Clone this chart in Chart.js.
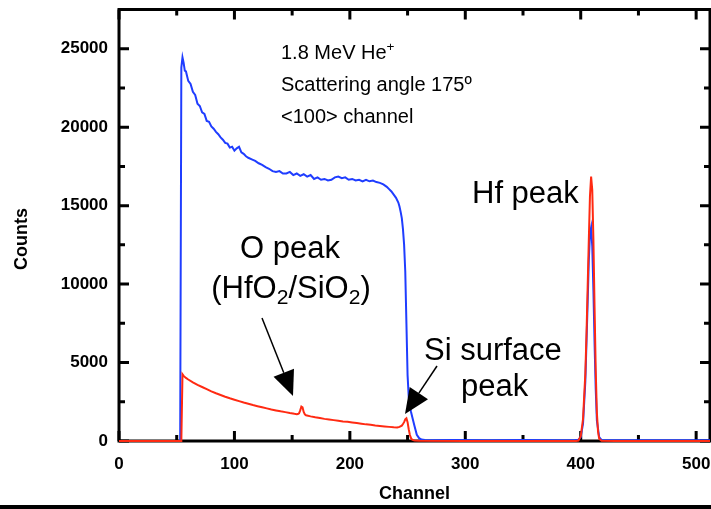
<!DOCTYPE html>
<html><head><meta charset="utf-8">
<script src="https://cdn.jsdelivr.net/npm/chart.js@4.4.1/dist/chart.umd.min.js"></script>
<style>html,body{margin:0;padding:0;background:#fff;}#wrap{width:711px;height:509px;}</style>
</head><body><div id="wrap"><canvas id="c" width="711" height="509"></canvas></div>
<script>
// ---- data ----
const blueChannels = [0,20,40,52,53,54,55,56,57,58,60,62,64,66,68,70,72,74,76,78,80,82,84,86,88,90,92,94,96,98,100,102,104,106,108,110,112,115,118,121,124,127,130,133,136,139,142,145,148,151,154,157,160,163,166,169,172,175,178,181,184,187,190,193,196,199,202,205,208,211,214,217,220,223,226,229,232,234,236,238,240,242,243,244,245,246,247,248,249,250,251,252,253,254,256,258,260,262,265,270,290,320,350,380,395,398,400,402,404,406,407,408,409,410,411,412,413,414,416,418,430,460,490,512];
const blueCounts = [0,0,0,0,0,23800,24450,24100,23600,23550,22950,22750,22250,22050,21500,21350,20950,20850,20400,20350,20050,19900,19700,19550,19350,19200,19000,18950,18700,18750,18500,18650,18750,18400,18300,18150,18050,17950,17850,17700,17600,17450,17350,17200,17150,17200,17050,17050,17150,16950,17050,16900,17000,16850,16950,16700,16800,16650,16700,16600,16650,16800,16850,16750,16800,16650,16700,16600,16650,16550,16650,16550,16600,16500,16450,16350,16200,16050,15900,15700,15500,15200,14950,14600,14200,13500,12500,10800,7500,4200,2800,2200,1850,1550,950,400,180,90,60,50,60,50,60,50,60,80,250,1100,3800,8800,11500,13200,13600,12400,9600,6200,3300,1300,250,70,50,50,50,50];
const redChannels = [0,20,40,53,54,55,56,58,60,64,68,72,76,80,84,88,92,96,100,104,108,112,116,120,124,128,132,136,140,144,148,152,154,155,156,157,158,159,160,161,162,166,170,174,178,182,186,190,194,198,202,206,210,214,218,222,226,230,234,238,241,243,245,246,247,248,249,250,251,252,253,254,256,260,300,350,396,398,400,402,404,405,406,407,408,409,410,411,412,413,414,415,416,418,430,470,512];
const redCounts = [0,0,0,0,0,4250,4150,4020,3920,3740,3580,3440,3300,3160,3040,2930,2820,2720,2630,2540,2450,2370,2290,2220,2150,2080,2010,1950,1890,1840,1780,1730,1710,1720,1760,1950,2200,2150,1850,1700,1640,1570,1510,1460,1410,1370,1330,1290,1250,1220,1180,1140,1100,1060,1030,990,960,930,900,870,860,900,980,1080,1200,1380,1450,1200,750,380,180,80,30,10,0,0,0,30,300,1400,4300,6800,9800,12800,15600,16850,16000,12800,8500,4500,1800,600,150,20,0,0,0];
const xMajorTicks = [0,100,200,300,400,500];
const xMinorTicks = [50,150,250,350,450];
const yMajorTicks = [0,5000,10000,15000,20000,25000];
const yMinorTicks = [2500,7500,12500,17500,22500];

const FAM = '"Liberation Sans", Arial, sans-serif';

function drawRich(ctx, parts, x, y, size, align) {
  let w = 0;
  const m = parts.map(p => {
    const fs = p.s ? size * 0.68 : size;
    ctx.font = fs + 'px ' + FAM;
    const pw = ctx.measureText(p.t).width;
    w += pw;
    return {p, fs, pw};
  });
  let cx = align === 'center' ? x - w / 2 : x;
  ctx.textAlign = 'left';
  ctx.textBaseline = 'alphabetic';
  for (const it of m) {
    ctx.font = it.fs + 'px ' + FAM;
    const dy = it.p.s === 1 ? -size * 0.38 : (it.p.s === -1 ? size * 0.2 : 0);
    ctx.fillText(it.p.t, cx, y + dy);
    cx += it.pw;
  }
}
function arrow(ctx, x1, y1, x2, y2, hl, hw) {
  const a = Math.atan2(y2 - y1, x2 - x1);
  const bx = x2 - hl * Math.cos(a), by = y2 - hl * Math.sin(a);
  ctx.beginPath(); ctx.moveTo(x1, y1); ctx.lineTo(bx, by);
  ctx.lineWidth = 1.5; ctx.strokeStyle = '#000'; ctx.stroke();
  ctx.beginPath(); ctx.moveTo(x2, y2);
  ctx.lineTo(bx + hw * Math.sin(a), by - hw * Math.cos(a));
  ctx.lineTo(bx - hw * Math.sin(a), by + hw * Math.cos(a));
  ctx.closePath(); ctx.fillStyle = '#000'; ctx.fill();
}

const framePlugin = {
  id: 'frame',
  beforeDatasetsDraw(chart) {
    const {ctx, chartArea: {left, right, top, bottom}, scales: {x, y}} = chart;
    ctx.save();
    ctx.strokeStyle = '#000'; ctx.lineWidth = 3;
    ctx.strokeRect(left, top, right - left, bottom - top);
    const tx = (v, L) => { const p = x.getPixelForValue(v);
      ctx.beginPath(); ctx.moveTo(p, bottom); ctx.lineTo(p, bottom - L); ctx.moveTo(p, top); ctx.lineTo(p, top + L); ctx.stroke(); };
    const ty = (v, L) => { const p = y.getPixelForValue(v);
      ctx.beginPath(); ctx.moveTo(left, p); ctx.lineTo(left + L, p); ctx.moveTo(right, p); ctx.lineTo(right - L, p); ctx.stroke(); };
    xMajorTicks.forEach(v => tx(v, 10)); xMinorTicks.forEach(v => tx(v, 6));
    yMajorTicks.forEach(v => ty(v, 10)); yMinorTicks.forEach(v => ty(v, 6));
    ctx.restore();
  },
  afterDraw(chart) {
    const ctx = chart.ctx;
    ctx.save();
    ctx.fillStyle = '#000';
    ctx.fillRect(0, 505, 711, 4);
    // axis titles
    ctx.font = 'bold 18px ' + FAM;
    ctx.textAlign = 'center'; ctx.textBaseline = 'middle';
    ctx.fillText('Channel', (chart.chartArea.left + chart.chartArea.right) / 2, 494);
    ctx.save(); ctx.translate(22, 239); ctx.rotate(-Math.PI / 2);
    ctx.fillText('Counts', 0, 0); ctx.restore();
    // annotations
    drawRich(ctx, [{t: '1.8 MeV He'}, {t: '+', s: 1}], 281, 59, 20, 'left');
    drawRich(ctx, [{t: 'Scattering angle 175º'}], 281, 91, 20, 'left');
    drawRich(ctx, [{t: '<100> channel'}], 281, 123, 20, 'left');
    drawRich(ctx, [{t: 'Hf peak'}], 472, 203, 31, 'left');
    drawRich(ctx, [{t: 'O peak'}], 290, 258, 31, 'center');
    drawRich(ctx, [{t: '(HfO'}, {t: '2', s: -1}, {t: '/SiO'}, {t: '2', s: -1}, {t: ')'}], 291, 298, 31, 'center');
    drawRich(ctx, [{t: 'Si surface'}], 424, 360, 31, 'left');
    drawRich(ctx, [{t: 'peak'}], 461, 396, 31, 'left');
    arrow(ctx, 262, 318, 293, 396, 25, 11);
    arrow(ctx, 437, 366, 405, 414, 25, 11);
    ctx.restore();
  }
};

const tickFont = {family: FAM, size: 17, weight: 'bold'};
new Chart(document.getElementById('c'), {
  type: 'line',
  data: {datasets: [
    {label: 'aligned', data: redChannels.map((c, i) => ({x: c, y: redCounts[i]})), borderColor: '#ff2a12', borderWidth: 2, pointRadius: 0, tension: 0, order: 1, clip: 4},
    {label: 'random', data: blueChannels.map((c, i) => ({x: c, y: blueCounts[i]})), borderColor: '#1f3dff', borderWidth: 2, pointRadius: 0, tension: 0, order: 2, clip: 4}
  ]},
  options: {
    responsive: false, animation: false, devicePixelRatio: 1,
    layout: {padding: {top: 9.5, right: 1, left: 0, bottom: 0}},
    plugins: {legend: {display: false}, tooltip: {enabled: false}},
    scales: {
      x: {type: 'linear', min: 0, max: 512,
        afterBuildTicks: s => { s.ticks = xMajorTicks.map(v => ({value: v})); },
        afterFit: s => { s.height = 68; s.paddingLeft = 0; s.paddingRight = 0; },
        grid: {display: false, drawTicks: false}, border: {display: false},
        ticks: {color: '#000', font: tickFont, padding: 13, maxRotation: 0, autoSkip: false, callback: v => String(v)},
        title: {display: false, text: 'Channel'}},
      y: {type: 'linear', min: 0, max: 27500,
        afterBuildTicks: s => { s.ticks = yMajorTicks.map(v => ({value: v})); },
        afterFit: s => { s.width = 119; s.paddingTop = 0; s.paddingBottom = 0; },
        grid: {display: false, drawTicks: false}, border: {display: false},
        ticks: {color: '#000', font: tickFont, padding: 11, autoSkip: false, callback: v => String(v)},
        title: {display: false, text: 'Counts'}}
    }
  },
  plugins: [framePlugin]
});
</script></body></html>
